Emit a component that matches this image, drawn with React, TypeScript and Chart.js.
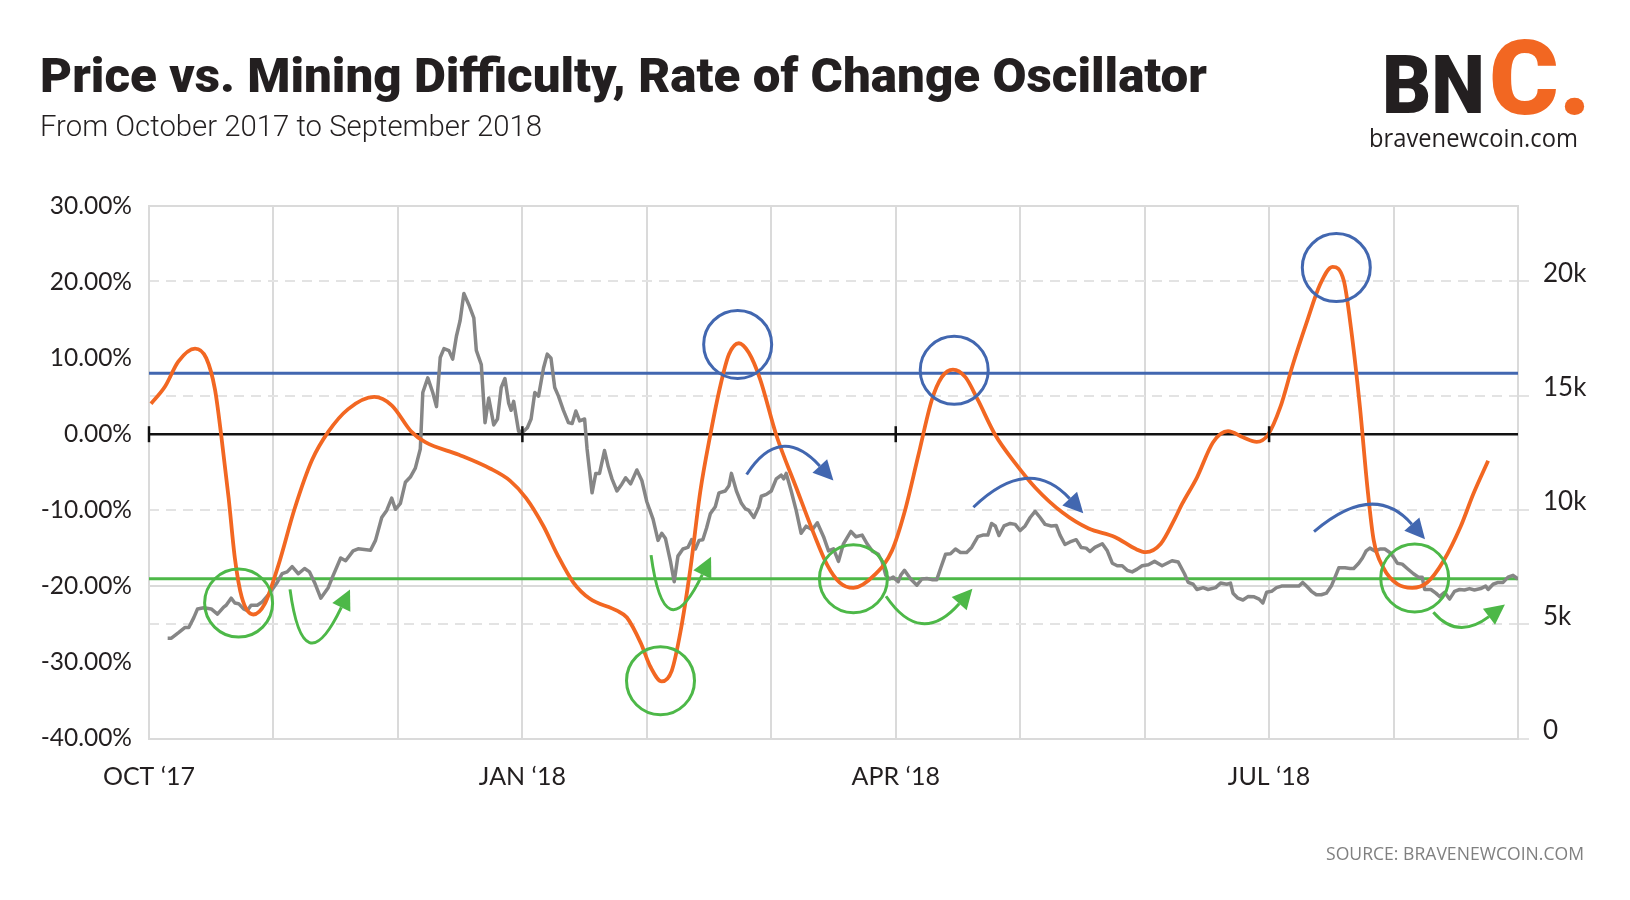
import React, { useEffect, useLayoutEffect, useRef } from 'react';
import { Chart, registerables } from 'chart.js';

Chart.register(...registerables);

// ---------------- data ----------------
// x values are months since 1 Oct 2017 (0 = Oct '17, 11 = Sep '18)
const MONTH_TICKS = [0, 1, 2, 3, 4, 5, 6, 7, 8, 9, 10, 11];
const QUARTER_LABELS: Record<number, string> = { 0: 'OCT ‘17', 3: 'JAN ‘18', 6: 'APR ‘18', 9: 'JUL ‘18' };
const PCT_TICKS = [-40, -30, -20, -10, 0, 10, 20, 30];
const PCT_GRID = [30, -20, -40];
const PRICE_TICKS_K = [0, 5, 10, 15, 20];
const PCT_MIN = -40;
const PCT_MAX = 30;
const PRICE_MAX_K = 23.3;
const UPPER_BAND = 8;
const LOWER_BAND = -19;
const ZERO_TICK_MONTHS = [0, 3, 6, 9];

// Difficulty rate-of-change oscillator (%), [month, value]
const ROC_POINTS: [number, number][] = [
  [0.016, 4.0], [0.13, 6.3], [0.235, 9.55], [0.37, 11.26], [0.46, 10.0], [0.53, 5.9], [0.58, -0.1],
  [0.64, -8.4], [0.69, -16.3], [0.745, -21.4], [0.838, -23.7], [0.93, -22.3], [1.04, -17.2],
  [1.17, -9.8], [1.31, -3.4], [1.44, 0.3], [1.6, 3.3], [1.81, 4.9], [1.95, 3.8], [2.11, 0.3],
  [2.22, -1.05], [2.49, -2.7], [2.74, -4.5], [2.9, -6.1], [3.03, -8.4], [3.17, -12.1], [3.28, -15.8],
  [3.41, -19.5], [3.54, -21.6], [3.76, -23.2], [3.84, -24.1], [3.95, -27.4], [4.03, -30.6],
  [4.12, -32.5], [4.2, -31.1], [4.27, -26], [4.35, -17.7], [4.43, -7.5], [4.51, -0.1], [4.59, 6.3],
  [4.66, 10.5], [4.74, 11.96], [4.82, 10.7], [4.91, 7.25], [5.04, -0.1], [5.2, -7], [5.34, -13],
  [5.45, -17.2], [5.55, -19.5], [5.66, -20.2], [5.83, -18.5], [5.97, -15.3], [6.07, -10.3],
  [6.18, -2.9], [6.29, 4.5], [6.37, 7.5], [6.46, 8.5], [6.56, 7.5], [6.66, 4.5], [6.8, -0.1],
  [6.96, -3.8], [7.12, -7], [7.34, -10.3], [7.55, -12.4], [7.76, -13.5], [7.93, -15.1], [8.01, -15.5],
  [8.13, -14.4], [8.24, -11.2], [8.3, -9.2], [8.42, -5.7], [8.55, -1.05], [8.67, 0.4], [8.79, -0.4],
  [8.9, -1.0], [8.99, -0.1], [9.09, 3.55], [9.19, 9.1], [9.3, 14.6], [9.41, 19.7], [9.51, 22.0],
  [9.6, 20.2], [9.66, 13.7], [9.73, 3.55], [9.79, -7], [9.84, -13.9], [9.92, -17.6], [10.03, -19.7],
  [10.15, -20.2], [10.27, -19.5], [10.4, -16.7], [10.54, -12.1], [10.64, -7.9], [10.76, -3.5],
];

// BTC price (thousand USD), [month, value]
const PRICE_POINTS: [number, number][] = [
  [0.15, 4.39], [0.18, 4.39], [0.24, 4.64], [0.29, 4.86], [0.32, 4.86], [0.36, 5.29], [0.39, 5.67],
  [0.44, 5.72], [0.5, 5.67], [0.55, 5.44], [0.6, 5.75], [0.62, 5.83], [0.66, 6.14], [0.69, 5.93],
  [0.72, 5.9], [0.76, 5.67], [0.79, 5.6], [0.82, 5.83], [0.87, 5.83], [0.91, 5.98], [0.96, 6.29],
  [1.03, 6.83], [1.07, 7.21], [1.11, 7.29], [1.15, 7.52], [1.2, 7.21], [1.25, 7.44], [1.29, 7.29],
  [1.33, 6.83], [1.38, 6.14], [1.44, 6.6], [1.48, 7.14], [1.54, 7.9], [1.58, 7.78], [1.64, 8.21],
  [1.68, 8.3], [1.78, 8.24], [1.82, 8.67], [1.87, 9.67], [1.91, 9.98], [1.95, 10.52], [1.98, 10.03],
  [2.02, 10.29], [2.06, 11.21], [2.1, 11.44], [2.14, 11.83], [2.18, 12.67], [2.2, 15.14], [2.24, 15.78],
  [2.28, 15.14], [2.31, 14.52], [2.34, 16.67], [2.37, 17.06], [2.41, 16.97], [2.44, 16.6], [2.47, 17.6],
  [2.5, 18.29], [2.53, 19.47], [2.57, 18.98], [2.61, 18.4], [2.63, 16.98], [2.67, 16.36], [2.7, 13.82],
  [2.73, 14.9], [2.77, 13.72], [2.8, 13.98], [2.83, 15.36], [2.86, 15.75], [2.89, 14.67], [2.91, 14.36],
  [2.93, 14.75], [2.97, 13.44], [3.01, 13.44], [3.04, 13.6], [3.07, 13.98], [3.1, 15.14], [3.13, 14.98],
  [3.17, 16.21], [3.2, 16.82], [3.23, 16.64], [3.26, 15.36], [3.29, 14.98], [3.33, 14.36], [3.37, 13.82],
  [3.4, 13.78], [3.43, 14.33], [3.46, 13.9], [3.5, 13.98], [3.52, 12.67], [3.56, 10.75], [3.59, 11.6],
  [3.62, 11.6], [3.66, 12.6], [3.69, 11.9], [3.72, 11.36], [3.76, 10.83], [3.8, 11.14], [3.83, 11.41],
  [3.87, 11.14], [3.92, 11.75], [3.96, 11.29], [4.0, 10.36], [4.05, 9.6], [4.09, 8.67], [4.12, 8.98],
  [4.15, 8.75], [4.19, 7.75], [4.22, 6.86], [4.25, 7.98], [4.29, 8.29], [4.33, 8.36], [4.36, 8.7],
  [4.39, 8.29], [4.42, 8.67], [4.45, 8.7], [4.48, 9.21], [4.51, 9.83], [4.55, 10.14], [4.58, 10.75],
  [4.63, 10.83], [4.66, 11.06], [4.68, 11.6], [4.72, 10.83], [4.76, 10.29], [4.79, 10.06], [4.82, 9.98],
  [4.86, 9.67], [4.9, 10.14], [4.92, 10.6], [4.96, 10.68], [5.0, 10.83], [5.04, 11.36], [5.08, 11.52],
  [5.1, 11.36], [5.12, 11.6], [5.16, 10.83], [5.2, 9.98], [5.24, 8.98], [5.28, 9.29], [5.33, 9.14],
  [5.37, 9.44], [5.42, 8.83], [5.46, 8.21], [5.5, 8.3], [5.54, 7.75], [5.58, 8.52], [5.64, 9.06],
  [5.68, 8.83], [5.73, 8.9], [5.77, 8.52], [5.81, 8.21], [5.86, 8.06], [5.89, 7.75], [5.92, 7.14],
  [5.95, 6.98], [5.98, 7.06], [6.02, 6.86], [6.04, 7.14], [6.07, 7.36], [6.12, 6.98], [6.17, 6.71],
  [6.21, 6.98], [6.25, 7.0], [6.29, 6.95], [6.33, 6.95], [6.36, 7.44], [6.4, 8.06], [6.44, 8.08],
  [6.48, 8.29], [6.52, 8.14], [6.57, 8.14], [6.61, 8.36], [6.66, 8.83], [6.7, 8.9], [6.74, 8.9],
  [6.77, 9.41], [6.8, 9.3], [6.83, 8.88], [6.87, 9.3], [6.92, 9.41], [6.96, 9.37], [7.0, 9.1],
  [7.04, 9.3], [7.08, 9.67], [7.12, 9.94], [7.16, 9.67], [7.2, 9.37], [7.25, 9.3], [7.29, 9.32],
  [7.32, 8.9], [7.36, 8.49], [7.4, 8.6], [7.45, 8.7], [7.49, 8.36], [7.53, 8.33], [7.56, 8.18],
  [7.6, 8.36], [7.66, 8.52], [7.7, 8.21], [7.74, 7.67], [7.78, 7.56], [7.82, 7.56], [7.86, 7.36],
  [7.9, 7.29], [7.94, 7.41], [7.98, 7.56], [8.03, 7.6], [8.08, 7.75], [8.14, 7.56], [8.18, 7.67],
  [8.22, 7.78], [8.27, 7.72], [8.32, 7.21], [8.35, 6.83], [8.39, 6.75], [8.42, 6.52], [8.47, 6.6],
  [8.51, 6.52], [8.57, 6.6], [8.61, 6.8], [8.66, 6.75], [8.69, 6.8], [8.71, 6.36], [8.75, 6.14],
  [8.79, 6.06], [8.83, 6.21], [8.88, 6.2], [8.92, 6.1], [8.95, 5.93], [8.98, 6.4], [9.02, 6.44],
  [9.06, 6.6], [9.1, 6.67], [9.14, 6.67], [9.2, 6.67], [9.24, 6.67], [9.27, 6.83], [9.3, 6.67],
  [9.34, 6.44], [9.38, 6.29], [9.42, 6.29], [9.46, 6.36], [9.5, 6.67], [9.53, 7.06], [9.56, 7.47],
  [9.61, 7.47], [9.65, 7.44], [9.68, 7.44], [9.72, 7.67], [9.75, 7.9], [9.78, 8.21], [9.81, 8.33],
  [9.85, 8.21], [9.89, 8.29], [9.93, 8.29], [9.97, 8.14], [10.0, 7.94], [10.03, 7.67], [10.07, 7.63],
  [10.11, 7.44], [10.16, 7.21], [10.2, 7.06], [10.23, 7.06], [10.25, 6.52], [10.3, 6.52], [10.34, 6.36],
  [10.37, 6.21], [10.41, 6.4], [10.45, 6.1], [10.49, 6.44], [10.53, 6.52], [10.57, 6.5], [10.61, 6.56],
  [10.65, 6.5], [10.7, 6.56], [10.74, 6.67], [10.76, 6.52], [10.8, 6.75], [10.84, 6.83], [10.88, 6.83],
  [10.92, 7.06], [10.96, 7.14], [11.0, 6.98],
];

// Annotations in data space: [month, oscillator %]
const GREEN_CIRCLES: [number, number][] = [[0.72, -22.2], [4.11, -32.4], [5.66, -19.0], [10.17, -18.9]];
const BLUE_CIRCLES: [number, number][] = [[4.73, 11.8], [6.47, 8.4], [9.54, 21.9]];
// arrows: start, middle, tip
const GREEN_ARROWS: [number, number][][] = [
  [[1.133, -20.4], [1.307, -26.8], [1.615, -20.4]],
  [[4.034, -15.9], [4.208, -22.4], [4.516, -16.1]],
  [[5.922, -21.3], [6.235, -24.4], [6.616, -20.3]],
  [[10.32, -23.4], [10.561, -25.0], [10.895, -22.4]],
];
const BLUE_ARROWS: [number, number][][] = [
  [[4.802, -5.3], [5.11, -2.1], [5.499, -6.1]],
  [[6.624, -9.6], [7.066, -6.3], [7.507, -10.4]],
  [[9.361, -12.8], [9.824, -9.7], [10.253, -13.8]],
];

// ---------------- styles ----------------
const ORANGE = '#F26722';
const GRAY = '#868686';
const BLUE = '#4267B0';
const GREEN = '#4DB848';
const ZERO_COLOR = '#111111';
const GRID = '#dadada';
const DASH_GRID = '#e3e3e3';
const INK = '#231F20';
const CIRCLE_R = 34;

const overlayPlugin = {
  id: 'overlay',
  afterDatasetsDraw(chart: any) {
    const { ctx } = chart;
    const xs = chart.scales.x;
    const ys = chart.scales.y;
    const P = (m: number, v: number) => ({ x: xs.getPixelForValue(m), y: ys.getPixelForValue(v) });
    ctx.save();
    // tick marks on zero line
    ctx.strokeStyle = ZERO_COLOR;
    ctx.lineWidth = 2.5;
    const y0 = ys.getPixelForValue(0);
    ZERO_TICK_MONTHS.forEach((m) => {
      const px = xs.getPixelForValue(m);
      ctx.beginPath();
      ctx.moveTo(px, y0 - 8);
      ctx.lineTo(px, y0 + 8);
      ctx.stroke();
    });
    const circles = (pts: [number, number][], color: string) => {
      ctx.strokeStyle = color;
      ctx.lineWidth = 3;
      pts.forEach(([m, v]) => {
        const p = P(m, v);
        ctx.beginPath();
        ctx.arc(p.x, p.y, CIRCLE_R, 0, Math.PI * 2);
        ctx.stroke();
      });
    };
    const arrows = (list: [number, number][][], color: string) => {
      list.forEach((a) => {
        const p0 = P(a[0][0], a[0][1]);
        const p1 = P(a[1][0], a[1][1]);
        const p2 = P(a[2][0], a[2][1]);
        const c = { x: 2 * p1.x - (p0.x + p2.x) / 2, y: 2 * p1.y - (p0.y + p2.y) / 2 };
        const ang = Math.atan2(p2.y - c.y, p2.x - c.x);
        const L = 20;
        const W = 10;
        const bx = p2.x - L * Math.cos(ang);
        const by = p2.y - L * Math.sin(ang);
        ctx.strokeStyle = color;
        ctx.lineWidth = 3;
        ctx.beginPath();
        ctx.moveTo(p0.x, p0.y);
        ctx.quadraticCurveTo(c.x, c.y, bx, by);
        ctx.stroke();
        ctx.fillStyle = color;
        ctx.beginPath();
        ctx.moveTo(p2.x, p2.y);
        ctx.lineTo(bx + W * Math.sin(ang), by - W * Math.cos(ang));
        ctx.lineTo(bx - W * Math.sin(ang), by + W * Math.cos(ang));
        ctx.closePath();
        ctx.fill();
      });
    };
    circles(GREEN_CIRCLES, GREEN);
    circles(BLUE_CIRCLES, BLUE);
    arrows(GREEN_ARROWS, GREEN);
    arrows(BLUE_ARROWS, BLUE);
    ctx.restore();
  },
};

type FitProps = {
  text: string; left: number; baseline: number; width: number;
  size: number; family: string; weight: number; color: string;
};

function FitText({ text, left, baseline, width, size, family, weight, color }: FitProps) {
  const boxRef = useRef<HTMLDivElement>(null);
  const txtRef = useRef<HTMLSpanElement>(null);
  const markRef = useRef<HTMLSpanElement>(null);
  useLayoutEffect(() => {
    const box = boxRef.current;
    const txt = txtRef.current;
    const mark = markRef.current;
    if (!box || !txt || !mark) return;
    const fit = () => {
      box.style.transform = 'none';
      box.style.top = '0px';
      const w = txt.getBoundingClientRect().width;
      const b = mark.getBoundingClientRect().top - box.getBoundingClientRect().top;
      box.style.top = `${baseline - b}px`;
      if (w > 0) box.style.transform = `scaleX(${width / w})`;
    };
    fit();
    if ((document as any).fonts) (document as any).fonts.ready.then(fit);
  }, [text, left, baseline, width, size, family, weight]);
  return (
    <div
      ref={boxRef}
      style={{
        position: 'absolute', left, top: 0, whiteSpace: 'nowrap', transformOrigin: '0 0',
        fontFamily: family, fontSize: size, fontWeight: weight, color, lineHeight: 'normal',
      }}
    >
      <span ref={txtRef}>{text}</span>
      <span ref={markRef} style={{ display: 'inline-block', width: 0, height: 0 }} />
    </div>
  );
}

export default function App() {
  const canvasRef = useRef<HTMLCanvasElement>(null);

  useEffect(() => {
    const canvas = canvasRef.current;
    if (!canvas) return;
    const lineBase = { pointRadius: 0, pointHoverRadius: 0, fill: false };
    const chart = new Chart(canvas, {
      type: 'line',
      data: {
        datasets: [
          {
            ...lineBase,
            label: 'Difficulty ROC',
            data: ROC_POINTS.map(([m, v]) => ({ x: m, y: v })),
            yAxisID: 'y',
            borderColor: ORANGE,
            borderWidth: 3.8,
            cubicInterpolationMode: 'monotone',
            order: 0,
          },
          {
            ...lineBase,
            label: 'Price',
            data: PRICE_POINTS.map(([m, v]) => ({ x: m, y: v })),
            yAxisID: 'y1',
            borderColor: GRAY,
            borderWidth: 3.5,
            tension: 0,
            borderJoinStyle: 'round',
            order: 1,
          },
          {
            ...lineBase,
            label: 'Upper',
            data: [{ x: MONTH_TICKS[0], y: UPPER_BAND }, { x: MONTH_TICKS[MONTH_TICKS.length - 1], y: UPPER_BAND }],
            yAxisID: 'y',
            borderColor: BLUE,
            borderWidth: 3,
            order: 2,
          },
          {
            ...lineBase,
            label: 'Lower',
            data: [{ x: MONTH_TICKS[0], y: LOWER_BAND }, { x: MONTH_TICKS[MONTH_TICKS.length - 1], y: LOWER_BAND }],
            yAxisID: 'y',
            borderColor: GREEN,
            borderWidth: 3,
            order: 2,
          },
          {
            ...lineBase,
            label: 'Zero',
            data: [{ x: MONTH_TICKS[0], y: 0 }, { x: MONTH_TICKS[MONTH_TICKS.length - 1], y: 0 }],
            yAxisID: 'y',
            borderColor: ZERO_COLOR,
            borderWidth: 2.5,
            order: 3,
          },
        ] as any,
      },
      options: {
        animation: false,
        responsive: false,
        devicePixelRatio: 1,
        events: [],
        layout: { padding: { top: 206, left: 0, right: 0, bottom: 0 } },
        plugins: { legend: { display: false }, tooltip: { enabled: false }, title: { display: false } },
        scales: {
          x: {
            type: 'linear',
            min: MONTH_TICKS[0],
            max: MONTH_TICKS[MONTH_TICKS.length - 1],
            afterBuildTicks: (axis: any) => { axis.ticks = MONTH_TICKS.map((v) => ({ value: v })); },
            afterFit: (s: any) => { s.height = 161.5; },
            grid: { color: GRID, lineWidth: 2, drawTicks: false },
            border: { display: true, color: GRID, width: 2 },
            ticks: {
              autoSkip: false, maxRotation: 0, minRotation: 0, padding: 23,
              color: INK, font: { family: 'Lato', size: 25 },
              callback: (v: any) => QUARTER_LABELS[Number(v)] ?? '',
            },
          },
          y: {
            type: 'linear',
            position: 'left',
            min: PCT_MIN,
            max: PCT_MAX,
            afterBuildTicks: (axis: any) => { axis.ticks = PCT_TICKS.map((v) => ({ value: v })); },
            afterFit: (s: any) => { s.width = 149; },
            grid: {
              lineWidth: 2, drawTicks: false,
              color: (ctx: any) => (ctx.tick && PCT_GRID.includes(ctx.tick.value) ? GRID : 'rgba(0,0,0,0)'),
            },
            border: { display: true, color: GRID, width: 2 },
            ticks: {
              padding: 17, color: INK, font: { family: 'Lato', size: 24.5 },
              callback: (v: any) => `${Number(v).toFixed(2)}%`,
            },
          },
          y1: {
            type: 'linear',
            position: 'right',
            min: 0,
            max: PRICE_MAX_K,
            afterBuildTicks: (axis: any) => { axis.ticks = PRICE_TICKS_K.map((v) => ({ value: v })); },
            afterFit: (s: any) => { s.width = 112; },
            grid: { color: DASH_GRID, lineWidth: 2, drawTicks: true, tickLength: 15, tickBorderDash: [10, 7], tickColor: DASH_GRID },
            border: { display: true, color: GRID, width: 2, dash: [10, 7] },
            ticks: {
              padding: 10, labelOffset: -8, color: INK, font: { family: 'Lato', size: 26 },
              callback: (v: any) => (Number(v) === 0 ? '0' : `${v}k`),
            },
          },
        },
      } as any,
      plugins: [overlayPlugin],
    });
    let alive = true;
    if ((document as any).fonts) (document as any).fonts.ready.then(() => { if (alive) chart.update(); });
    return () => { alive = false; chart.destroy(); };
  }, []);

  return (
    <div style={{ position: 'fixed', left: 0, top: 0, width: 1630, height: 900, background: '#ffffff', overflow: 'hidden' }}>
      <canvas ref={canvasRef} width={1630} height={900} style={{ position: 'absolute', left: 0, top: 0, width: 1630, height: 900 }} />
      <FitText text="Price vs. Mining Difficulty, Rate of Change Oscillator" left={40} baseline={92} width={1167}
        size={48} family="Roboto" weight={900} color={INK} />
      <FitText text="From October 2017 to September 2018" left={40} baseline={136} width={502}
        size={29} family="Roboto" weight={300} color={INK} />
      <FitText text="BN" left={1382} baseline={112.5} width={103} size={82} family="Roboto" weight={900} color={INK} />
      <FitText text="C." left={1489} baseline={114} width={102} size={103} family="Roboto" weight={900} color={ORANGE} />
      <FitText text="bravenewcoin.com" left={1369} baseline={146.5} width={209} size={26} family="Open Sans" weight={400} color={INK} />
      <FitText text="SOURCE: BRAVENEWCOIN.COM" left={1326} baseline={859.5} width={258} size={17.5} family="Open Sans" weight={400} color="#808080" />
    </div>
  );
}
